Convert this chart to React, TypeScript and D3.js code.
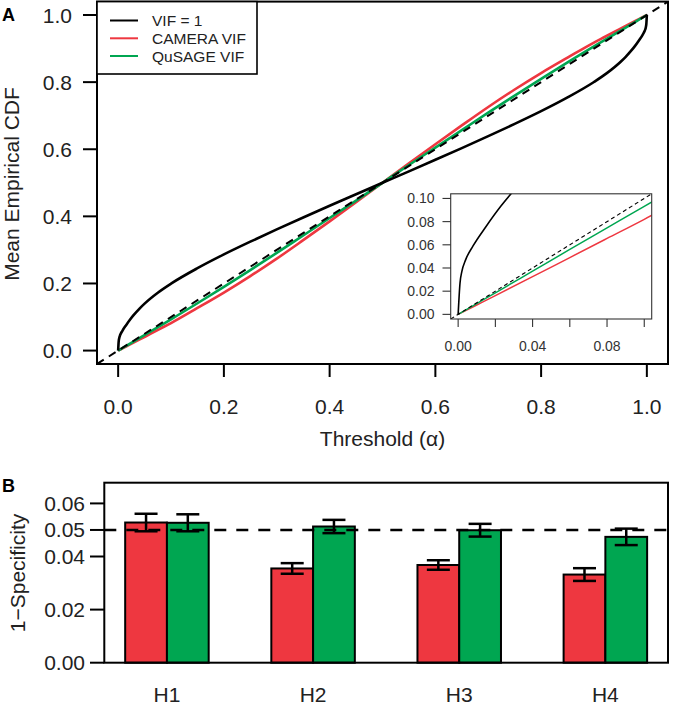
import React from "react";
import * as d3 from "d3";

// ---------- Panel A data ----------
const vif1X = [0, 0.001, 0.002, 0.004, 0.008, 0.015, 0.023, 0.03, 0.04, 0.05, 0.075, 0.1, 0.15, 0.2, 0.25, 0.3, 0.35, 0.4, 0.45, 0.5,
  0.55, 0.6, 0.65, 0.7, 0.75, 0.8, 0.85, 0.9, 0.925, 0.95, 0.96, 0.97, 0.977, 0.985, 0.992, 0.996, 0.998, 0.999, 1];
const vif1Y = [0, 0.027, 0.037, 0.047, 0.059, 0.0758, 0.0934, 0.107, 0.1245, 0.14, 0.1725, 0.1995, 0.2455, 0.2865, 0.3245, 0.361, 0.3965, 0.4315, 0.466, 0.5,
  0.534, 0.5685, 0.6035, 0.639, 0.6755, 0.7135, 0.7545, 0.8005, 0.8275, 0.86, 0.8755, 0.893, 0.9066, 0.9242, 0.941, 0.953, 0.963, 0.973, 1];

const vifX = [0, 0.01, 0.02, 0.04, 0.06, 0.08, 0.1, 0.15, 0.2, 0.25, 0.3, 0.35, 0.4, 0.45, 0.5,
  0.55, 0.6, 0.65, 0.7, 0.75, 0.8, 0.85, 0.9, 0.92, 0.94, 0.96, 0.98, 0.99, 1];
const cameraY = [0, 0.0081, 0.0162, 0.0325, 0.049, 0.0655, 0.082, 0.127, 0.173, 0.222, 0.274, 0.329, 0.385, 0.442, 0.5,
  0.558, 0.615, 0.671, 0.726, 0.778, 0.827, 0.873, 0.918, 0.9345, 0.951, 0.9675, 0.9838, 0.9919, 1];
const qusageY = [0, 0.0093, 0.0186, 0.0373, 0.056, 0.0746, 0.0932, 0.141, 0.19, 0.24, 0.291, 0.343, 0.395, 0.447, 0.5,
  0.553, 0.605, 0.657, 0.709, 0.76, 0.81, 0.859, 0.9068, 0.9254, 0.944, 0.9627, 0.9814, 0.9907, 1];

const ticksA = [0, 0.2, 0.4, 0.6, 0.8, 1.0];
const ticksALabels = ["0.0", "0.2", "0.4", "0.6", "0.8", "1.0"];
const insetTicks = [0, 0.02, 0.04, 0.06, 0.08, 0.1];
const insetYLabels = ["0.00", "0.02", "0.04", "0.06", "0.08", "0.10"];
const insetXLabels = ["0.00", "", "0.04", "", "0.08", ""];

const legendLabels = ["VIF = 1", "CAMERA VIF", "QuSAGE VIF"];

// ---------- Panel B data ----------
const categories = ["H1", "H2", "H3", "H4"];
const methods = ["CAMERA", "QuSAGE"];
const cameraVals = [0.0528, 0.0355, 0.0368, 0.0332];
const cameraErr = [0.0033, 0.002, 0.0018, 0.0024];
const qusageVals = [0.0527, 0.0513, 0.0499, 0.0474];
const qusageErr = [0.0032, 0.0025, 0.0024, 0.0031];
const ticksB = [0, 0.02, 0.04, 0.05, 0.06];
const ticksBLabels = ["0.00", "0.02", "0.04", "0.05", "0.06"];

const RED = "#EE3740";
const GREEN = "#00A651";
const FONT = "'Liberation Sans', Arial, sans-serif";

export default function App() {
  // Panel A scales
  const xA = d3.scaleLinear().domain([-0.04, 1.04]).range([97, 668]);
  const yA = d3.scaleLinear().domain([-0.04, 1.04]).range([364, 1.6]);
  const lineA = (xs: number[], ys: number[]) =>
    d3.line<number>().x((_, i) => xA(xs[i])).y((_, i) => yA(ys[i])).curve(d3.curveMonotoneX)(xs) || "";

  // Inset scales
  const xI = d3.scaleLinear().domain([-0.004, 0.104]).range([450.7, 651.7]);
  const yI = d3.scaleLinear().domain([-0.004, 0.104]).range([319, 193.8]);
  const lineI = (xs: number[], ys: number[]) =>
    d3.line<number>().x((_, i) => xI(xs[i])).y((_, i) => yI(ys[i])).curve(d3.curveMonotoneX)(xs) || "";

  // Panel B scales
  const xB = d3.scaleBand<string>().domain(categories).range([104.3, 668])
    .paddingInner(1.5 / 3.5).paddingOuter(0.5 / 3.5);
  const xSub = d3.scaleBand<string>().domain(methods).range([0, xB.bandwidth()]);
  const yB = d3.scaleLinear().domain([0, 0.0678]).range([662.7, 482.7]);

  const bVals = [cameraVals, qusageVals];
  const bErr = [cameraErr, qusageErr];
  const bCol = [RED, GREEN];

  const legendRowY = [20.5, 38.3, 56];
  const legendCol = ["#000", RED, GREEN];

  return (
    <svg width={680} height={705} style={{ position: "absolute", left: 0, top: 0, background: "#fff" }}
      fontFamily={FONT}>
      <defs>
        <clipPath id="clipA"><rect x={97} y={1.6} width={571} height={362.4} /></clipPath>
        <clipPath id="clipI"><rect x={450.7} y={193.8} width={201} height={125.2} /></clipPath>
      </defs>
      <rect x={0} y={0} width={680} height={705} fill="#fff" />

      {/* ---------- Panel A ---------- */}
      <text x={2} y={21} fontSize={18} fontWeight="bold">A</text>
      <g clipPath="url(#clipA)">
        <path d={lineA(vifX, cameraY)} fill="none" stroke={RED} strokeWidth={2.6} />
        <path d={lineA(vifX, qusageY)} fill="none" stroke={GREEN} strokeWidth={2.6} />
        <path d={lineA(vif1X, vif1Y)} fill="none" stroke="#000" strokeWidth={2.6} />
        <line x1={xA(-0.04)} y1={yA(-0.04)} x2={xA(1.04)} y2={yA(1.04)} stroke="#000" strokeWidth={2} strokeDasharray="8,6" />
      </g>
      <rect x={97} y={1.6} width={571} height={362.4} fill="none" stroke="#000" strokeWidth={2} />
      {ticksA.map((t, i) => (
        <g key={"xa" + i}>
          <line x1={xA(t)} x2={xA(t)} y1={364} y2={377} stroke="#000" strokeWidth={2} />
          <text x={xA(t)} y={414} fontSize={21} textAnchor="middle" fill="#222">{ticksALabels[i]}</text>
        </g>
      ))}
      {ticksA.map((t, i) => (
        <g key={"ya" + i}>
          <line x1={83} x2={97} y1={yA(t)} y2={yA(t)} stroke="#000" strokeWidth={2} />
          <text x={72} y={yA(t) + 7.5} fontSize={21} textAnchor="end" fill="#222">{ticksALabels[i]}</text>
        </g>
      ))}
      <text x={382.5} y={446} fontSize={21} textAnchor="middle" fill="#222">Threshold (α)</text>
      <text transform={`translate(19,184) rotate(-90)`} fontSize={21} textAnchor="middle" fill="#222">Mean Empirical CDF</text>

      {/* Legend */}
      <rect x={97} y={1.6} width={160} height={72.4} fill="#fff" stroke="#000" strokeWidth={1.6} />
      {legendLabels.map((l, i) => (
        <g key={"lg" + i}>
          <line x1={110} x2={138} y1={legendRowY[i]} y2={legendRowY[i]} stroke={legendCol[i]} strokeWidth={2} />
          <text x={152} y={legendRowY[i] + 5.5} fontSize={15.5} fill="#222">{l}</text>
        </g>
      ))}

      {/* Inset */}
      <rect x={450.7} y={193.8} width={201} height={125.2} fill="#fff" />
      <g clipPath="url(#clipI)">
        <path d={lineI(vifX, cameraY)} fill="none" stroke={RED} strokeWidth={1.5} />
        <path d={lineI(vifX, qusageY)} fill="none" stroke={GREEN} strokeWidth={1.5} />
        <path d={lineI(vif1X, vif1Y)} fill="none" stroke="#000" strokeWidth={1.6} />
        <line x1={xI(-0.004)} y1={yI(-0.004)} x2={xI(0.104)} y2={yI(0.104)} stroke="#000" strokeWidth={1.1} strokeDasharray="4,3" />
      </g>
      <rect x={450.7} y={193.8} width={201} height={125.2} fill="none" stroke="#333" strokeWidth={1.1} />
      {insetTicks.map((t, i) => (
        <g key={"xi" + i}>
          <line x1={xI(t)} x2={xI(t)} y1={319} y2={327} stroke="#333" strokeWidth={1.1} />
          {insetXLabels[i] && (
            <text x={xI(t)} y={350.5} fontSize={14} textAnchor="middle" fill="#333">{insetXLabels[i]}</text>
          )}
        </g>
      ))}
      {insetTicks.map((t, i) => (
        <g key={"yi" + i}>
          <line x1={442.5} x2={450.7} y1={yI(t)} y2={yI(t)} stroke="#333" strokeWidth={1.1} />
          <text x={434.5} y={yI(t) + 5} fontSize={14} textAnchor="end" fill="#333">{insetYLabels[i]}</text>
        </g>
      ))}

      {/* ---------- Panel B ---------- */}
      <text x={2} y={492} fontSize={18} fontWeight="bold">B</text>
      {categories.map((c, ci) => (
        <g key={"bar" + c}>
          {methods.map((m, mi) => {
            const x0 = (xB(c) || 0) + (xSub(m) || 0);
            const w = xSub.bandwidth();
            const v = bVals[mi][ci];
            return (
              <rect key={m} x={x0} y={yB(v)} width={w} height={yB(0) - yB(v)}
                fill={bCol[mi]} stroke="#000" strokeWidth={2} />
            );
          })}
        </g>
      ))}
      <line x1={104.3} x2={668} y1={yB(0.05)} y2={yB(0.05)} stroke="#000" strokeWidth={2.5} strokeDasharray="12,10" />
      {categories.map((c, ci) => (
        <g key={"err" + c}>
          {methods.map((m, mi) => {
            const cx = (xB(c) || 0) + (xSub(m) || 0) + xSub.bandwidth() / 2;
            const v = bVals[mi][ci];
            const e = bErr[mi][ci];
            return (
              <g key={m} stroke="#000" strokeWidth={2.5}>
                <line x1={cx} x2={cx} y1={yB(v - e)} y2={yB(v + e)} />
                <line x1={cx - 11.5} x2={cx + 11.5} y1={yB(v + e)} y2={yB(v + e)} />
                <line x1={cx - 11.5} x2={cx + 11.5} y1={yB(v - e)} y2={yB(v - e)} />
              </g>
            );
          })}
        </g>
      ))}
      <rect x={104.3} y={482.7} width={563.7} height={180} fill="none" stroke="#000" strokeWidth={2} />
      {ticksB.map((t, i) => (
        <g key={"yb" + i}>
          <line x1={90} x2={104.3} y1={yB(t)} y2={yB(t)} stroke="#000" strokeWidth={2} />
          <text x={85} y={yB(t) + 7.5} fontSize={21} textAnchor="end" fill="#222">{ticksBLabels[i]}</text>
        </g>
      ))}
      {categories.map((c) => (
        <text key={"lb" + c} x={(xB(c) || 0) + xB.bandwidth() / 2} y={702} fontSize={21} textAnchor="middle" fill="#222">{c}</text>
      ))}
      <text transform={`translate(25,573) rotate(-90)`} fontSize={21} textAnchor="middle" fill="#222">1−Specificity</text>
    </svg>
  );
}
